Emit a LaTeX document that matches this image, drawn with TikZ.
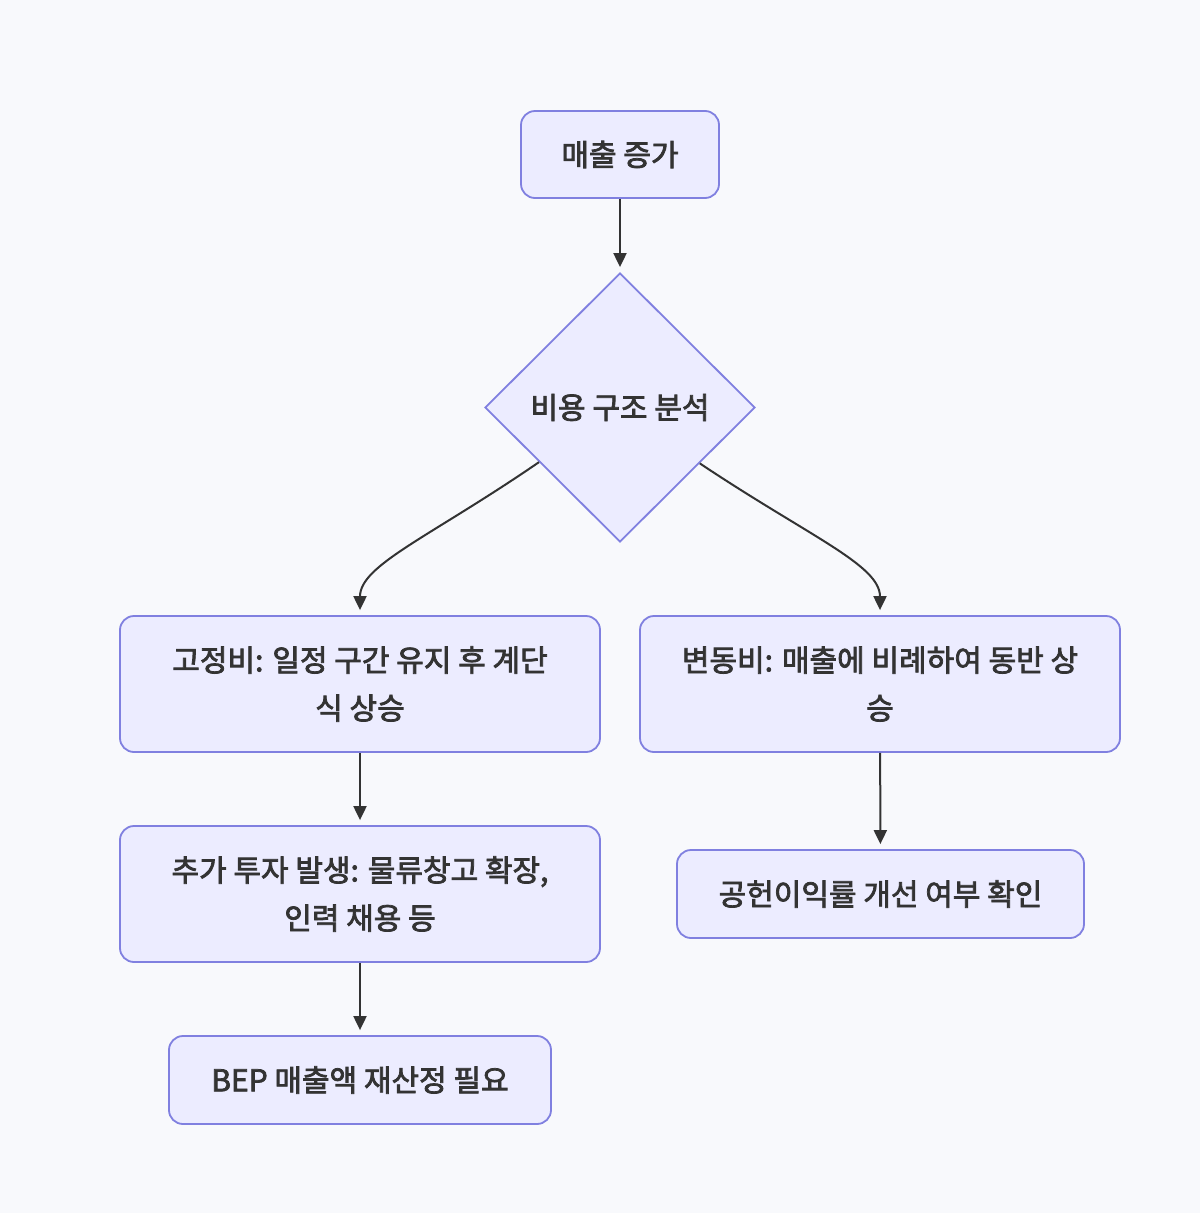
\documentclass[tikz,border=0pt]{standalone}
\usepackage{fontspec}
\setmainfont{Noto Sans CJK KR}[FakeBold=2.5]
\usetikzlibrary{shapes.geometric,arrows.meta}
\definecolor{bg}{HTML}{F8F9FC}
\definecolor{nodefill}{HTML}{ECECFF}
\definecolor{nodeline}{HTML}{8080E0}
\definecolor{txt}{HTML}{333333}
\begin{document}
\begin{tikzpicture}[x=1pt,y=-1pt,
  box/.style={draw=nodeline,fill=nodefill,line width=1.8pt,rounded corners=14pt,
    align=center,text=txt,font=\fontsize{30}{48}\selectfont,inner sep=0pt},
  dec/.style={draw=nodeline,fill=nodefill,line width=1.8pt,shape=diamond,aspect=1,
    minimum width=270pt,minimum height=269pt,inner sep=0pt,text=txt,font=\fontsize{30}{48}\selectfont},
  conn/.style={draw=txt,line width=2pt,-{Triangle[length=14pt,width=13pt]},shorten >=5pt}
]
\useasboundingbox[fill=bg] (0,0) rectangle (1200,1213);
\node[box,minimum width=198pt,minimum height=87pt] (a) at (620,154.5) {매출 증가};
\node[dec] (d) at (620,407.5) {비용 구조 분석};
\node[box,minimum width=480pt,minimum height=136pt] (b) at (360,684) {고정비: 일정 구간 유지 후 계단\\식 상승};
\node[box,minimum width=480pt,minimum height=136pt] (c) at (880,684) {변동비: 매출에 비례하여 동반 상\\승};
\node[box,minimum width=480pt,minimum height=136pt] (e) at (360,894) {추가 투자 발생: 물류창고 확장,\\인력 채용 등};
\node[box,minimum width=407pt,minimum height=88pt] (f) at (880.5,894) {공헌이익률 개선 여부 확인};
\node[box,minimum width=382pt,minimum height=88pt] (g) at (360,1080) {BEP 매출액 재산정 필요};
\draw[conn] (a) -- (d);
\draw[conn] (d.214.5) .. controls (430,537) and (360,565) .. (b.north);
\draw[conn] (d.325.5) .. controls (810,537) and (880,565) .. (c.north);
\draw[conn] (b) -- (e);
\draw[conn] (c) -- (f);
\draw[conn] (e) -- (g);
\end{tikzpicture}
\end{document}
